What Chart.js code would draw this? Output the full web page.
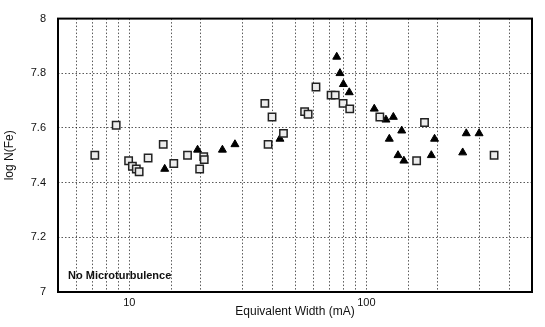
<!DOCTYPE html>
<html>
<head>
<meta charset="utf-8">
<script src="https://cdn.jsdelivr.net/npm/chart.js@4/dist/chart.umd.min.js"></script>
<style>
  body { margin: 0; background: #fff; }
  #wrap { width: 545px; height: 327px; }
</style>
</head>
<body>
<div id="wrap"><canvas id="chart"></canvas></div>
<script>
// open squares
const squareX = [7.15, 8.8, 9.93, 10.3, 10.7, 11.0, 12.0, 13.9, 15.4, 17.6, 20.6, 20.7, 19.8, 37.3, 40.0, 38.5, 44.7, 54.9, 56.8, 61.3, 71.0, 73.9, 79.8, 85.1, 114, 176, 163, 346];
const squareY = [7.50, 7.61, 7.48, 7.46, 7.45, 7.44, 7.49, 7.54, 7.47, 7.50, 7.495, 7.484, 7.45, 7.69, 7.64, 7.54, 7.58, 7.66, 7.65, 7.75, 7.72, 7.72, 7.69, 7.67, 7.64, 7.62, 7.48, 7.50];
// filled triangles
const triangleX = [14.1, 19.4, 24.7, 27.9, 43.2, 75.0, 77.4, 80.0, 84.7, 108, 121, 130, 141, 125, 194, 136, 144, 188, 264, 299, 255];
const triangleY = [7.45, 7.52, 7.52, 7.54, 7.56, 7.86, 7.80, 7.76, 7.73, 7.67, 7.63, 7.64, 7.59, 7.56, 7.56, 7.50, 7.48, 7.50, 7.58, 7.58, 7.51];

const xTickLabels = [10, 100];
const yTickLabels = ['7', '7.2', '7.4', '7.6', '7.8', '8'];
const xTitle = 'Equivalent Width (mA)';
const yTitle = 'log N(Fe)';
const note = 'No Microturbulence';

const toPoints = (xs, ys) => xs.map((x, i) => ({ x: x, y: ys[i] }));
const font = '"Liberation Sans", Arial, sans-serif';

const frame = {
  id: 'frame',
  afterDraw(chart) {
    const { ctx, chartArea: a } = chart;
    ctx.save();
    ctx.setLineDash([]);
    ctx.strokeStyle = '#000';
    ctx.lineWidth = 2;
    ctx.strokeRect(a.left, a.top, a.right - a.left, a.bottom - a.top);
    ctx.fillStyle = '#111';
    ctx.font = 'bold 11px ' + font;
    ctx.textBaseline = 'middle';
    ctx.fillText(note, a.left + 10, a.bottom - 16);
    ctx.restore();
  }
};

new Chart(document.getElementById('chart'), {
  type: 'scatter',
  data: {
    datasets: [
      {
        data: toPoints(squareX, squareY),
        pointStyle: 'rect',
        pointRadius: 5.2,
        borderWidth: 1.5,
        borderColor: '#222',
        backgroundColor: '#ececec'
      },
      {
        data: toPoints(triangleX, triangleY),
        pointStyle: 'triangle',
        pointRadius: 4.6,
        borderWidth: 1,
        borderColor: '#000',
        backgroundColor: '#000'
      }
    ]
  },
  options: {
    responsive: true,
    maintainAspectRatio: false,
    animation: false,
    layout: { padding: { top: 15, right: 13, left: 0, bottom: 0 } },
    plugins: { legend: { display: false }, tooltip: { enabled: false } },
    scales: {
      x: {
        type: 'logarithmic',
        min: 5,
        max: 500,
        afterFit: s => { s.height = 35; },
        border: { display: false, dash: [1.5, 2] },
        grid: { color: 'rgba(0,0,0,0.65)', drawTicks: false },
        ticks: {
          autoSkip: false,
          maxRotation: 0,
          padding: 4,
          color: '#111',
          font: { family: font, size: 11 },
          callback: v => xTickLabels.includes(v) ? String(v) : ''
        },
        title: {
          display: true,
          text: xTitle,
          color: '#111',
          font: { family: font, size: 12 },
          padding: { top: 0, bottom: 8 }
        }
      },
      y: {
        min: 7,
        max: 8,
        afterFit: s => { s.width = 58; },
        border: { display: false, dash: [1.5, 2] },
        grid: { color: 'rgba(0,0,0,0.65)', drawTicks: false },
        ticks: {
          stepSize: 0.2,
          padding: 12,
          color: '#111',
          font: { family: font, size: 11 },
          callback: (v, i) => yTickLabels[i]
        },
        title: {
          display: true,
          text: yTitle,
          color: '#111',
          font: { family: font, size: 12 },
          padding: { top: 2, bottom: 0 }
        }
      }
    }
  },
  plugins: [frame]
});
</script>
</body>
</html>
